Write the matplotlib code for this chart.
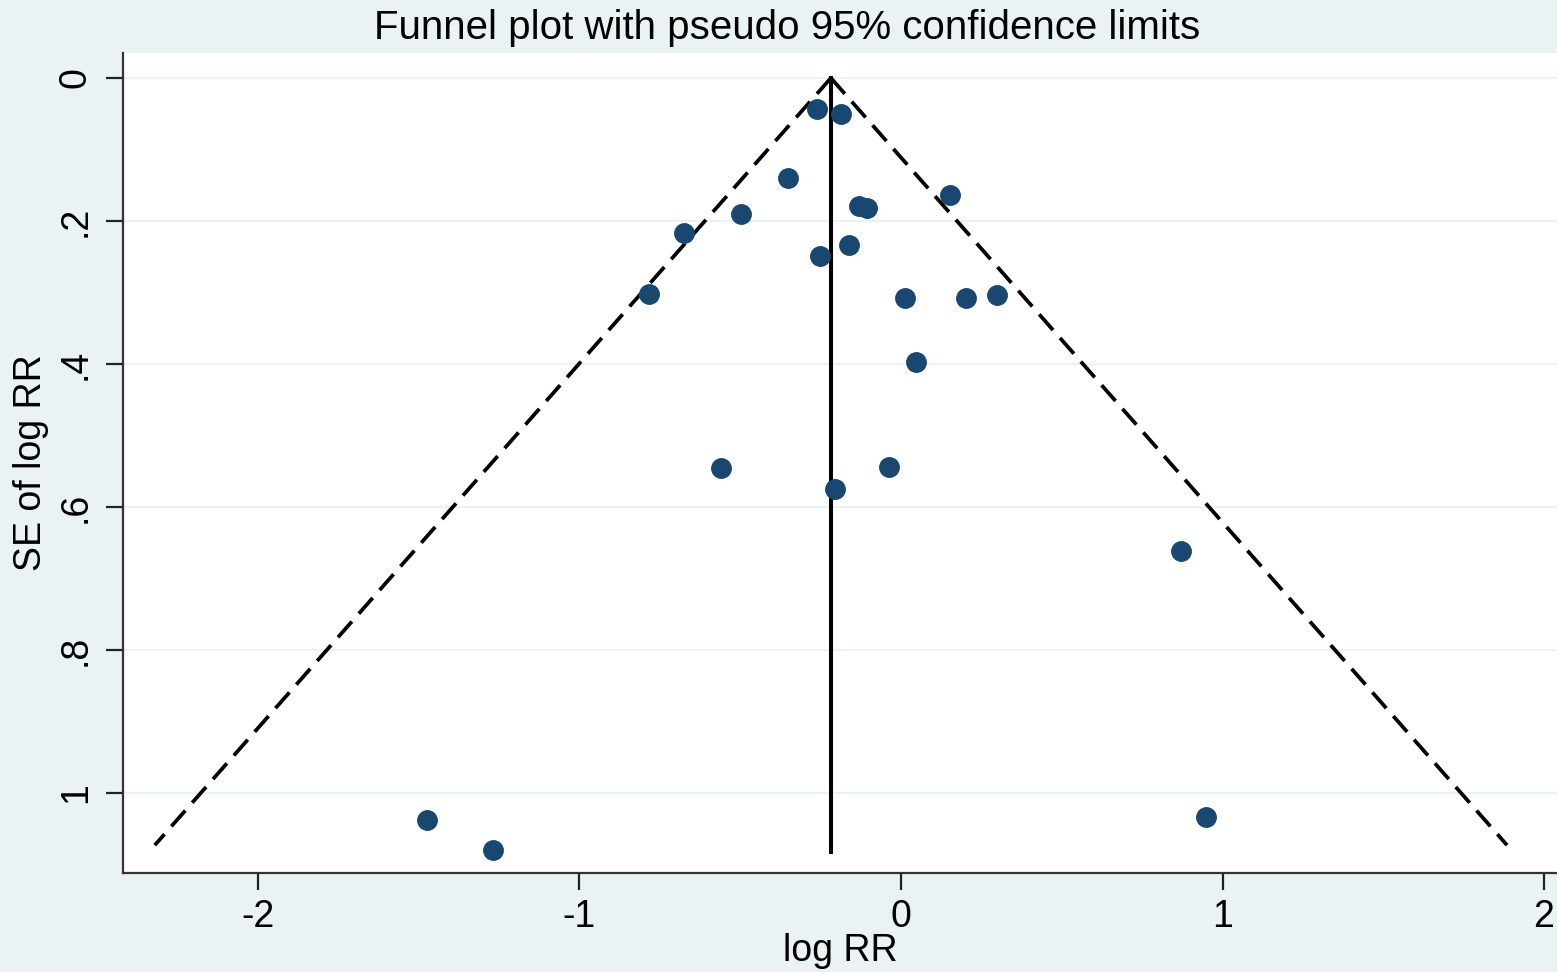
import matplotlib
matplotlib.use("Agg")
import matplotlib.pyplot as plt
import numpy as np

plt.rcParams['font.family'] = ['Liberation Sans', 'DejaVu Sans']

# study estimates: log RR and its standard error
log_rr = [-0.261, -0.187, -0.351, 0.152, -0.498, -0.675, -0.131, -0.106,
          -0.162, -0.252, -0.784, 0.012, 0.202, 0.299, 0.047, -0.560,
          -0.037, -0.205, 0.871, -1.474, -1.269, 0.949]
se_log_rr = [0.043, 0.050, 0.140, 0.164, 0.190, 0.217, 0.179, 0.182,
             0.234, 0.249, 0.302, 0.308, 0.308, 0.303, 0.397, 0.545,
             0.544, 0.575, 0.662, 1.038, 1.080, 1.034]

pooled = -0.218        # fixed effect estimate
se_max = 1.073         # funnel drawn down to this se
se_line = 1.083        # vertical line goes a bit further

xticks = [-2, -1, 0, 1, 2]
xtick_labels = ['-2', '-1', '0', '1', '2']
yticks = [0, 0.2, 0.4, 0.6, 0.8, 1.0]
ytick_labels = ['0', '.2', '.4', '.6', '.8', '1']

bg = '#eaf2f3'
navy = '#1a476f'

fig = plt.figure(figsize=(15.57, 9.72), dpi=100, facecolor=bg)
ax = fig.add_axes([123 / 1557, 1 - 873 / 972, 1 - 123 / 1557, (873 - 53) / 972])
ax.set_facecolor('white')

# grid
for yt in yticks:
    ax.axhline(yt, color=bg, lw=1.6, zorder=0)

# pseudo 95% confidence limits
se_grid = np.array([0, se_max])
ax.plot(pooled - 1.96 * se_grid, se_grid, color='black', lw=2.7,
        ls=(0, (5.6, 2.8)), zorder=2)
ax.plot(pooled + 1.96 * se_grid, se_grid, color='black', lw=2.7,
        ls=(0, (5.6, 2.8)), zorder=2)
ax.plot([pooled, pooled], [0, se_line], color='black', lw=2.9, zorder=2)

ax.plot(log_rr, se_log_rr, 'o', color=navy, ms=14, mec=navy, zorder=3)

ax.set_xlim((123 - 901) / 321.5, (1557 - 901) / 321.5)
ax.set_ylim((873 - 78) / 715, (53 - 78) / 715)

ax.set_xticks(xticks)
ax.set_xticklabels(xtick_labels)
ax.set_yticks(yticks)
ax.set_yticklabels(ytick_labels, rotation=90, va='center')

for s in ['top', 'right']:
    ax.spines[s].set_visible(False)
for s in ['left', 'bottom']:
    ax.spines[s].set_color('#333333')
    ax.spines[s].set_linewidth(1.6)

ax.tick_params(axis='both', labelsize=27, length=12, width=1.6, color='#222222', pad=7)
ax.tick_params(axis='y', pad=9)

ax.set_xlabel('log RR', fontsize=27, labelpad=-2)
ax.set_ylabel('SE of log RR', fontsize=27, labelpad=6)
fig.text(787 / 1557, 1 - 28 / 972, 'Funnel plot with pseudo 95% confidence limits',
         fontsize=29, ha='center', va='center')

fig.savefig('out.png', dpi=100, facecolor=bg)
